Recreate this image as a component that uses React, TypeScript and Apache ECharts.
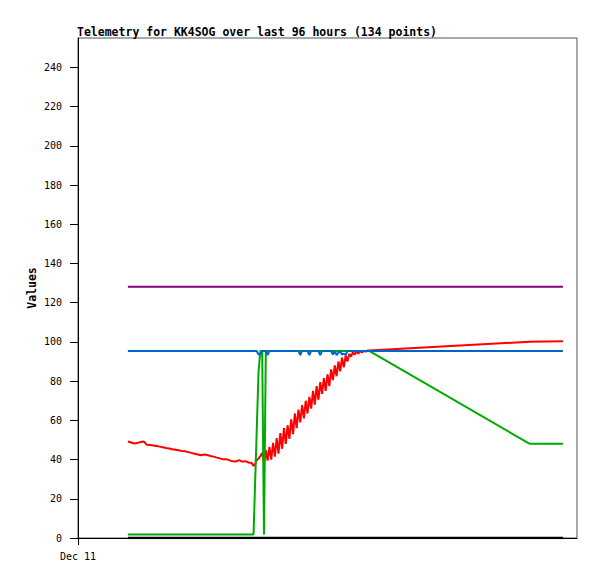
import React, { useEffect, useRef } from "react";
import * as echarts from "echarts";

// time in hours since Dec 11 00:00
const hours = [
  11.0, 11.7, 12.4, 13.1, 13.8, 14.5, 15.2, 15.9, 16.6, 17.3,
  18.0, 18.7, 19.4, 20.1, 20.8, 21.5, 22.2, 22.9, 23.6, 24.3,
  25.0, 25.7, 26.4, 27.1, 27.8, 28.5, 29.2, 29.9, 30.6, 31.3,
  32.0, 32.7, 33.4, 34.1, 34.8, 35.5, 36.2, 36.9, 37.6, 38.3,
  38.7,
  39.0, 39.4, 39.8, 40.2, 40.6, 41.0, 41.4, 41.8, 42.2, 42.6,
  43.0, 43.4, 43.8, 44.2, 44.6, 45.0, 45.4, 45.8, 46.2, 46.6,
  47.0, 47.4, 47.8, 48.2, 48.6, 49.0, 49.4, 49.8, 50.2, 50.6,
  51.0, 51.4, 51.8, 52.2, 52.6, 53.0, 53.4, 53.8, 54.2, 54.6,
  55.0, 55.4, 55.8, 56.2, 56.6, 57.0, 57.4, 57.8, 58.2, 58.6,
  59.0, 59.4, 59.8, 60.2, 60.6, 61.0, 61.4, 61.8, 62.2, 62.6,
  63.0, 63.4, 63.8, 64.2,
  99.5, 106.9,
];

const redValues = [
  49.2, 48.7, 48.2, 48.4, 49.0, 49.2, 47.5, 47.4, 47.2, 46.9,
  46.6, 46.3, 45.9, 45.6, 45.3, 45.0, 44.7, 44.4, 44.2, 43.8,
  43.4, 43.0, 42.6, 42.2, 42.6, 42.3, 41.8, 41.5, 41.0, 40.6,
  40.1, 40.2, 39.6, 39.1, 39.0, 39.7, 38.9, 39.2, 38.5, 38.2,
  36.8,
  37.5, 39.8, 40.5, 41.8, 43.4, 38.0, 44.8, 39.5, 46.5, 40.0,
  48.5, 41.5, 51.0, 43.0, 53.5, 45.5, 56.0, 48.0, 57.5, 50.5,
  60.5, 53.0, 63.5, 56.0, 65.5, 59.0, 67.8, 61.0, 70.0, 63.5,
  72.0, 66.0, 75.0, 68.0, 77.5, 70.5, 79.5, 73.5, 81.5, 75.0,
  83.5, 77.5, 86.0, 80.5, 88.0, 82.5, 90.0, 85.0, 92.0, 87.0,
  93.0, 90.0, 94.0, 92.5, 94.8, 93.5, 95.2, 94.0, 95.4, 94.6,
  95.5, 95.0, 95.6, 95.6,
  100.1, 100.4,
];

const greenValues = [
  1.8, 1.8, 1.8, 1.8, 1.8, 1.8, 1.8, 1.8, 1.8, 1.8,
  1.8, 1.8, 1.8, 1.8, 1.8, 1.8, 1.8, 1.8, 1.8, 1.8,
  1.8, 1.8, 1.8, 1.8, 1.8, 1.8, 1.8, 1.8, 1.8, 1.8,
  1.8, 1.8, 1.8, 1.8, 1.8, 1.8, 1.8, 1.8, 1.8, 1.8,
  1.8,
  25.0, 55.0, 85.0, 95.4, 95.4, 1.8, 95.4, 95.4, 95.4, 95.4,
  95.4, 95.4, 95.4, 95.4, 95.4, 95.4, 95.4, 95.4, 95.4, 95.4,
  95.4, 95.4, 95.4, 95.4, 95.4, 95.4, 95.4, 95.4, 95.4, 95.4,
  95.4, 95.4, 95.4, 95.4, 95.4, 95.4, 95.4, 95.4, 95.4, 95.4,
  95.4, 95.4, 95.4, 95.4, 95.4, 95.4, 95.4, 95.4, 95.4, 95.4,
  95.4, 95.4, 95.4, 95.4, 95.4, 95.4, 95.4, 95.4, 95.4, 95.4,
  95.4, 95.4, 95.4, 95.4,
  48.1, 48.1,
];

const blueValues = [
  95.4, 95.4, 95.4, 95.4, 95.4, 95.4, 95.4, 95.4, 95.4, 95.4,
  95.4, 95.4, 95.4, 95.4, 95.4, 95.4, 95.4, 95.4, 95.4, 95.4,
  95.4, 95.4, 95.4, 95.4, 95.4, 95.4, 95.4, 95.4, 95.4, 95.4,
  95.4, 95.4, 95.4, 95.4, 95.4, 95.4, 95.4, 95.4, 95.4, 95.4,
  95.4,
  95.4, 95.4, 93.5, 93.8, 95.4, 95.4, 95.4, 93.3, 95.4, 95.4,
  95.4, 95.4, 95.4, 95.4, 95.4, 95.4, 95.4, 95.4, 95.4, 95.4,
  95.4, 95.4, 95.4, 95.4, 95.4, 93.3, 95.4, 95.4, 95.4, 95.4,
  93.3, 95.4, 95.4, 95.4, 95.4, 95.4, 93.3, 95.4, 95.4, 95.4,
  95.4, 95.4, 95.4, 93.5, 95.4, 93.3, 94.5, 95.4, 93.5, 94.0,
  93.3, 95.4, 95.4, 95.4, 95.4, 95.4, 95.4, 95.4, 95.4, 95.4,
  95.4, 95.4, 95.4, 95.4,
  95.4, 95.4,
];

const purpleValues = [
  128.1, 128.1, 128.1, 128.1, 128.1, 128.1, 128.1, 128.1, 128.1, 128.1,
  128.1, 128.1, 128.1, 128.1, 128.1, 128.1, 128.1, 128.1, 128.1, 128.1,
  128.1, 128.1, 128.1, 128.1, 128.1, 128.1, 128.1, 128.1, 128.1, 128.1,
  128.1, 128.1, 128.1, 128.1, 128.1, 128.1, 128.1, 128.1, 128.1, 128.1,
  128.1,
  128.1, 128.1, 128.1, 128.1, 128.1, 128.1, 128.1, 128.1, 128.1, 128.1,
  128.1, 128.1, 128.1, 128.1, 128.1, 128.1, 128.1, 128.1, 128.1, 128.1,
  128.1, 128.1, 128.1, 128.1, 128.1, 128.1, 128.1, 128.1, 128.1, 128.1,
  128.1, 128.1, 128.1, 128.1, 128.1, 128.1, 128.1, 128.1, 128.1, 128.1,
  128.1, 128.1, 128.1, 128.1, 128.1, 128.1, 128.1, 128.1, 128.1, 128.1,
  128.1, 128.1, 128.1, 128.1, 128.1, 128.1, 128.1, 128.1, 128.1, 128.1,
  128.1, 128.1, 128.1, 128.1,
  128.1, 128.1,
];

const blackValues = [
  0, 0, 0, 0, 0, 0, 0, 0, 0, 0,
  0, 0, 0, 0, 0, 0, 0, 0, 0, 0,
  0, 0, 0, 0, 0, 0, 0, 0, 0, 0,
  0, 0, 0, 0, 0, 0, 0, 0, 0, 0,
  0,
  0, 0, 0, 0, 0, 0, 0, 0, 0, 0,
  0, 0, 0, 0, 0, 0, 0, 0, 0, 0,
  0, 0, 0, 0, 0, 0, 0, 0, 0, 0,
  0, 0, 0, 0, 0, 0, 0, 0, 0, 0,
  0, 0, 0, 0, 0, 0, 0, 0, 0, 0,
  0, 0, 0, 0, 0, 0, 0, 0, 0, 0,
  0, 0, 0, 0,
  0, 0,
];

const yTicks = [0, 20, 40, 60, 80, 100, 120, 140, 160, 180, 200, 220, 240];
const xTicks = [0];

const titleText = "Telemetry for KK4SOG over last 96 hours (134 points)";
const yAxisName = "Values";
const xStartLabel = "Dec 11";

const MONO = "DejaVu Sans Mono";

export default function App() {
  const ref = useRef<HTMLDivElement>(null);
  useEffect(() => {
    const chart = echarts.init(ref.current!, null, { renderer: "svg" });
    const mk = (vals: number[]) => hours.map((h, i) => [h, vals[i]]);
    const line = (name: string, vals: number[], color: string, width = 2) => ({
      type: "line",
      name,
      data: mk(vals),
      showSymbol: false,
      symbol: "none",
      silent: true,
      lineStyle: { color, width },
      itemStyle: { color },
    });
    chart.setOption({
      animation: false,
      title: {
        text: titleText,
        left: 77,
        top: 26,
        padding: 0,
        textStyle: { fontFamily: MONO, fontWeight: "bold", fontSize: 11.5, color: "#000" },
      },
      grid: {
        left: 78,
        right: 20,
        top: 38,
        bottom: 41,
        show: true,
        borderColor: "#555",
        borderWidth: 1,
        backgroundColor: "transparent",
      },
      xAxis: {
        type: "value",
        min: 0,
        max: 110,
        axisLine: { show: true, lineStyle: { color: "#000", width: 1 } },
        axisTick: { show: true, length: 7, lineStyle: { color: "#000" }, customValues: xTicks },
        splitLine: { show: false },
        axisLabel: {
          customValues: xTicks,
          formatter: (v: number) => (v === 0 ? xStartLabel : ""),
          margin: 13,
          fontFamily: MONO,
          fontSize: 10,
          color: "#000",
        },
      },
      yAxis: {
        type: "value",
        min: 0,
        max: 255,
        interval: 20,
        name: yAxisName,
        nameLocation: "middle",
        nameGap: 40,
        nameMoveOverlap: false,
        nameTextStyle: { fontFamily: MONO, fontWeight: "bold", fontSize: 11.5, color: "#000" },
        axisLine: { show: true, lineStyle: { color: "#000", width: 1 } },
        axisTick: { show: true, length: 8, lineStyle: { color: "#000" }, customValues: yTicks },
        splitLine: { show: false },
        axisLabel: { customValues: yTicks, margin: 16, fontFamily: MONO, fontSize: 10, color: "#000" },
      },
      series: [
        line("red", redValues, "#ff0000"),
        line("green", greenValues, "#00aa00"),
        line("blue", blueValues, "#0066cc"),
        line("purple", purpleValues, "#800080"),
        line("black", blackValues, "#000000", 2.5),
      ],
    });
    return () => chart.dispose();
  }, []);
  return (
    <div
      ref={ref}
      style={{ position: "absolute", left: 0, top: 0, width: 597, height: 579, background: "#fff" }}
    />
  );
}
